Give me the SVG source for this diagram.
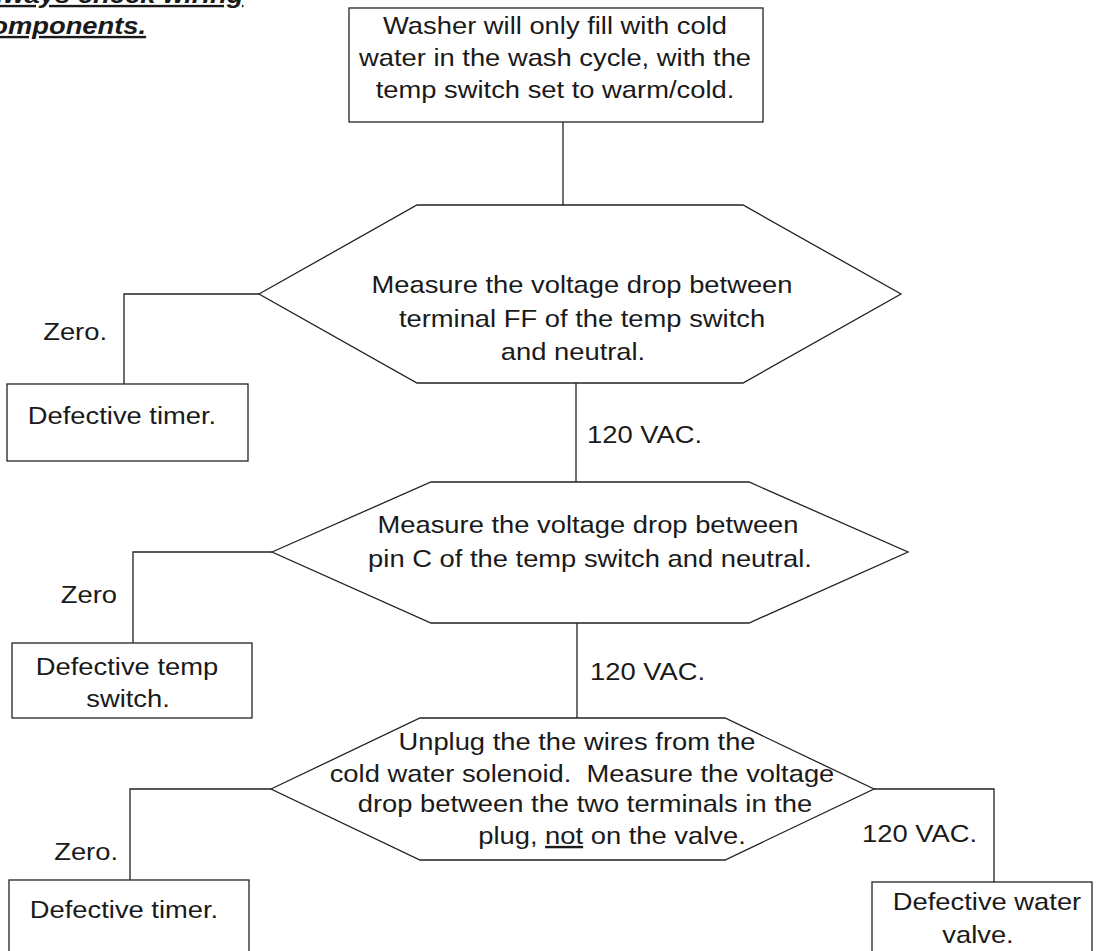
<svg xmlns="http://www.w3.org/2000/svg" width="1102" height="951" viewBox="0 0 1102 951">
<style>
.shape{fill:#fff;stroke:#222;stroke-width:1.3}
.wire{fill:none;stroke:#222;stroke-width:1.3}
text{font-family:"Liberation Sans",Arial,sans-serif;font-size:24px;fill:#1a1a1a}
.c{text-anchor:middle}
.e{text-anchor:end}
.note{font-weight:bold;font-style:italic;text-decoration:underline}
.u{text-decoration:underline}
</style>
<rect width="1102" height="951" fill="#fff"/>
<g id="note">
<text class="note" transform="matrix(1.14 0 0 1 -24 3)">Always check wiring</text>
<text class="note" transform="matrix(1.14 0 0 1 -24 34)">components.</text>
</g>
<g id="connectors">
<g class="wire">
<path d="M563 122V205"/>
<path d="M259 294H124V384"/>
<path d="M576 383V482"/>
<path d="M272 552H133V643"/>
<path d="M577 623V718"/>
<path d="M271 789H130V880"/>
<path d="M874 789H994V882"/>
</g>
<text class="e" transform="matrix(1.14 0 0 1 107 340)">Zero.</text>
<text transform="matrix(1.14 0 0 1 587 443)">120 VAC.</text>
<text class="e" transform="matrix(1.14 0 0 1 117 603)">Zero</text>
<text transform="matrix(1.14 0 0 1 590 680)">120 VAC.</text>
<text class="e" transform="matrix(1.14 0 0 1 118 860)">Zero.</text>
<text transform="matrix(1.14 0 0 1 862 842)">120 VAC.</text>
</g>
<g id="start">
<rect class="shape" x="349" y="8" width="414" height="114"/>
<text class="c" transform="matrix(1.14 0 0 1 555 34)">Washer will only fill with cold</text>
<text class="c" transform="matrix(1.14 0 0 1 555 66)">water in the wash cycle, with the</text>
<text class="c" transform="matrix(1.14 0 0 1 555 98)">temp switch set to warm/cold.</text>
</g>
<g id="check-ff">
<polygon class="shape" points="259,294 417,205 743,205 901,294 743,383 417,383"/>
<text class="c" transform="matrix(1.14 0 0 1 582 293)">Measure the voltage drop between</text>
<text class="c" transform="matrix(1.14 0 0 1 582 327)">terminal FF of the temp switch</text>
<text class="c" transform="matrix(1.14 0 0 1 573 360)">and neutral.</text>
</g>
<g id="timer-1">
<rect class="shape" x="7" y="384" width="241" height="77"/>
<text class="c" transform="matrix(1.14 0 0 1 122 424)">Defective timer.</text>
</g>
<g id="check-c">
<polygon class="shape" points="272,552 431,482 749,482 908,552 749,623 431,623"/>
<text class="c" transform="matrix(1.14 0 0 1 588 533)">Measure the voltage drop between</text>
<text class="c" transform="matrix(1.14 0 0 1 590 567)">pin C of the temp switch and neutral.</text>
</g>
<g id="temp-switch">
<rect class="shape" x="12" y="643" width="240" height="75"/>
<text class="c" transform="matrix(1.14 0 0 1 127 675)">Defective temp</text>
<text class="c" transform="matrix(1.14 0 0 1 128 707)">switch.</text>
</g>
<g id="check-solenoid">
<polygon class="shape" points="271,789 420,718 725,718 874,789 725,860 420,860"/>
<text class="c" transform="matrix(1.14 0 0 1 577 750)">Unplug the the wires from the</text>
<text class="c" transform="matrix(1.14 0 0 1 582 782)">cold water solenoid.&#160; Measure the voltage</text>
<text class="c" transform="matrix(1.14 0 0 1 585 812)">drop between the two terminals in the</text>
<text class="c" transform="matrix(1.14 0 0 1 612 844)">plug, <tspan class="u">not</tspan> on the valve.</text>
</g>
<g id="timer-2">
<rect class="shape" x="9" y="880" width="240" height="80"/>
<text class="c" transform="matrix(1.14 0 0 1 124 918)">Defective timer.</text>
</g>
<g id="water-valve">
<rect class="shape" x="872" y="882" width="220" height="80"/>
<text class="c" transform="matrix(1.14 0 0 1 987 910)">Defective water</text>
<text class="c" transform="matrix(1.14 0 0 1 978 943)">valve.</text>
</g>
</svg>
